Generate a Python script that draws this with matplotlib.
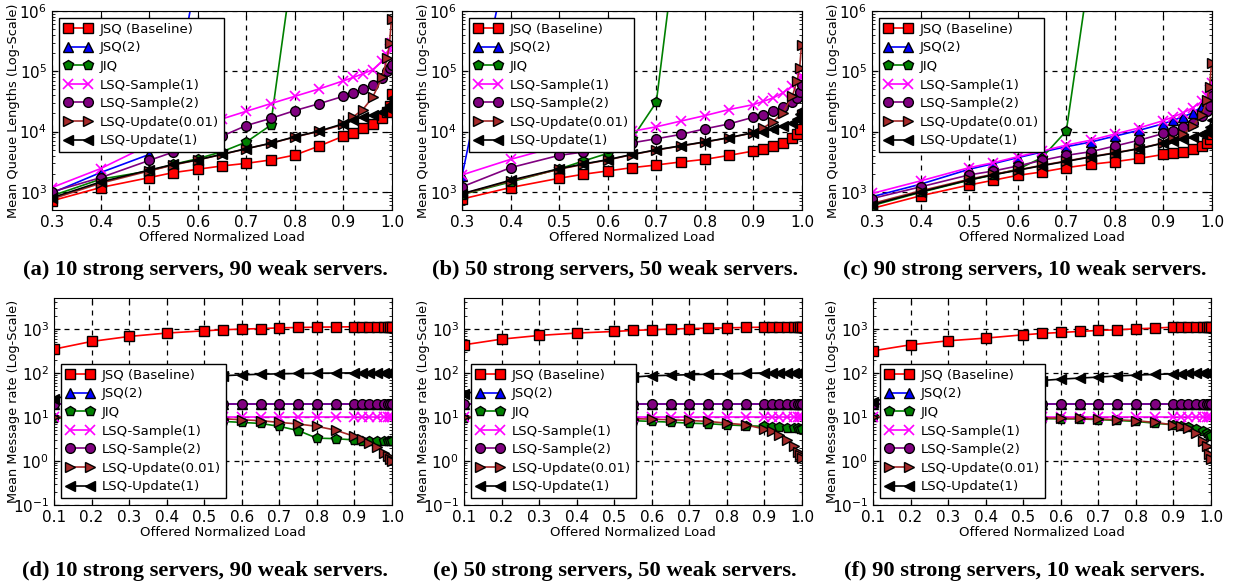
import matplotlib
matplotlib.use("Agg")
import matplotlib.pyplot as plt
from matplotlib.ticker import LogLocator, FormatStrFormatter

# offered normalized load (x values)
x_top = [0.3, 0.4, 0.5, 0.55, 0.6, 0.65, 0.7, 0.75, 0.8, 0.85, 0.9, 0.92, 0.94, 0.96, 0.98, 0.99, 0.995, 0.999]
x_bot = [0.1, 0.2, 0.3, 0.4, 0.5, 0.55, 0.6, 0.65, 0.7, 0.75, 0.8, 0.85, 0.9, 0.92, 0.94, 0.96, 0.98, 0.99, 0.995, 0.999]

labels = ["JSQ (Baseline)", "JSQ(2)", "JIQ", "LSQ-Sample(1)", "LSQ-Sample(2)",
          "LSQ-Update(0.01)", "LSQ-Update(1)"]

# --- mean queue lengths, (a) 10 strong / 90 weak
jsq_a = [710, 1180, 1720, 2090, 2370, 2690, 2970, 3380, 4080, 5750, 8400, 9550, 11300, 13100, 16900, 21100, 26300, 42500]
jsq2_a = [960, 2090, 4170, 30000, 5e6]
jiq_a = [860, 1620, 2220, 2860, 3550, 4630, 6700, 12700, 1e7]
samp1_a = [1180, 2430, 6000, 8500, 12000, 16200, 21700, 29000, 38500, 51000, 69500, 79000, 91000, 106000, 146000, 188000, 230000, 300000]
samp2_a = [1000, 1720, 3320, 4580, 6100, 8400, 12600, 16500, 22300, 29000, 38500, 43600, 51000, 60000, 78000, 100000, 115000, 125000]
upd001_a = [760, 1390, 2220, 2790, 3380, 4170, 5190, 6360, 8120, 10100, 13100, 17500, 23200, 37000, 80000, 165000, 295000, 740000]
upd1_a = [800, 1460, 2300, 2850, 3400, 4200, 5200, 6400, 8200, 10200, 13500, 15700, 17300, 19000, 21300, 24500, 28000, 36000]

# --- (b) 50 strong / 50 weak
jsq_b = [760, 1180, 1680, 1960, 2220, 2520, 2790, 3130, 3460, 4030, 4760, 5050, 5750, 6360, 7900, 8950, 11100, 19100]
jsq2_b = [1840, 1.3e7]
jiq_b = [900, 1460, 2400, 3250, 4350, 7600, 30600, 5e7]
samp1_b = [1910, 3460, 5750, 7000, 8500, 10100, 12000, 14900, 18400, 23200, 28000, 31700, 36000, 43600, 57000, 67000, 80000, 85000]
samp2_b = [1210, 2520, 4030, 4580, 5400, 6500, 7600, 8950, 11100, 13400, 17300, 19100, 21700, 25300, 30900, 36000, 44800, 60000]
upd001_b = [915, 1520, 2370, 2860, 3380, 4140, 4940, 5750, 6700, 7900, 9550, 11500, 14500, 20400, 38400, 69500, 112000, 270000]
upd1_b = [930, 1560, 2420, 2900, 3420, 4180, 4980, 5800, 6750, 7950, 9600, 9800, 11000, 12300, 13900, 16300, 19500, 23000]

# --- (c) 90 strong / 10 weak
jsq_c = [530, 860, 1300, 1560, 1880, 2140, 2520, 2860, 3170, 3590, 4170, 4340, 4630, 5060, 5750, 6500, 7600, 8950]
jsq2_c = [830, 1340, 2370, 2940, 3690, 4580, 5610, 6700, 8400, 10500, 13500, 15400, 17500, 20400, 26300, 31800, 43600, 63600]
jiq_c = [590, 980, 1560, 1910, 2370, 3690, 10200, 6e6]
samp1_c = [940, 1520, 2520, 3050, 3830, 4740, 5960, 7190, 9100, 11500, 15200, 17500, 20400, 24700, 31800, 38500, 49300, 63600]
samp2_c = [775, 1210, 1910, 2220, 2690, 3330, 4030, 4630, 5750, 7190, 9300, 10400, 12000, 14000, 18000, 21700, 26300, 38500]
upd001_c = [640, 1040, 1620, 1960, 2310, 2760, 3250, 3830, 4450, 5250, 6500, 7600, 8950, 12300, 19100, 34000, 54000, 136000]
upd1_c = [610, 1000, 1580, 1920, 2280, 2720, 3200, 3780, 4400, 5200, 6450, 6950, 7400, 8100, 9100, 10000, 11800, 15800]

# --- mean message rate, (d) 10 strong / 90 weak
jsq_d = [345, 516, 670, 800, 900, 950, 985, 1010, 1050, 1070, 1090, 1100, 1110, 1110, 1110, 1110, 1110, 1110, 1110, 1110]
jsq2_d = [20, 20, 20, 20, 20, 20, 20, 20, 20, 20, 20, 20, 20, 20, 20, 20, 20, 20, 20, 20]
jiq_d = [9.5, 9.3, 9.0, 8.7, 8.2, 7.9, 7.5, 7.1, 6.1, 4.9, 3.3, 3.2, 3.0, 2.9, 2.8, 2.8, 2.8, 2.8, 2.8, 2.8]
samp1_d = [10, 10, 10, 10, 10, 10, 10, 10, 10, 10, 10, 10, 10, 10, 10, 10, 10, 10, 10, 10]
samp2_d = [20, 20, 20, 20, 20, 20, 20, 20, 20, 20, 20, 20, 20, 20, 20, 20, 20, 20, 20, 20]
upd001_d = [9.8, 9.7, 9.6, 9.4, 9.2, 9.1, 8.6, 8.2, 7.5, 6.9, 6.1, 5.0, 3.6, 3.2, 2.6, 2.05, 1.52, 1.27, 1.1, 1.0]
upd1_d = [25, 45, 60, 70, 80, 86, 90, 93, 95, 97, 98, 99, 100, 100, 100, 100, 100, 100, 100, 100]

# --- (e) 50 strong / 50 weak
jsq_e = [433, 582, 706, 800, 870, 917, 950, 985, 1015, 1030, 1050, 1070, 1090, 1095, 1100, 1100, 1100, 1100, 1100, 1100]
jsq2_e = [20, 20, 20, 20, 20, 20, 20, 20, 20, 20, 20, 20, 20, 20, 20, 20, 20, 20, 20, 20]
jiq_e = [9.6, 9.4, 9.2, 8.9, 8.5, 8.2, 7.9, 7.6, 7.2, 7.0, 6.6, 6.3, 6.1, 5.9, 5.8, 5.7, 5.6, 5.5, 5.4, 5.4]
samp1_e = [10, 10, 10, 10, 10, 10, 10, 10, 10, 10, 10, 10, 10, 10, 10, 10, 10, 10, 10, 10]
samp2_e = [20, 20, 20, 20, 20, 20, 20, 20, 20, 20, 20, 20, 20, 20, 20, 20, 20, 20, 20, 20]
upd001_e = [9.9, 9.8, 9.7, 9.5, 9.3, 9.1, 8.9, 8.6, 8.3, 7.9, 7.2, 6.6, 5.3, 4.7, 3.9, 3.0, 2.15, 1.57, 1.4, 1.15]
upd1_e = [33, 52, 63, 72, 78, 80, 86, 88, 91, 93, 95, 97, 100, 100, 100, 100, 100, 100, 100, 100]

# --- (f) 90 strong / 10 weak
jsq_f = [316, 433, 534, 614, 730, 784, 826, 870, 917, 950, 1000, 1035, 1090, 1095, 1100, 1100, 1100, 1100, 1100, 1100]
jsq2_f = [20, 20, 20, 20, 20, 20, 20, 20, 20, 20, 20, 20, 20, 20, 20, 20, 20, 20, 20, 20]
jiq_f = [9.8, 9.7, 9.6, 9.5, 9.3, 9.1, 9.0, 9.0, 8.7, 8.3, 7.9, 7.2, 6.6, 6.3, 6.0, 5.3, 4.7, 4.2, 3.9, 3.7]
samp1_f = [10, 10, 10, 10, 10, 10, 10, 10, 10, 10, 10, 10, 10, 10, 10, 10, 10, 10, 10, 10]
samp2_f = [20, 20, 20, 20, 20, 20, 20, 20, 20, 20, 20, 20, 20, 20, 20, 20, 20, 20, 20, 20]
upd001_f = [9.9, 9.8, 9.8, 9.7, 9.6, 9.5, 9.3, 9.2, 8.9, 8.6, 8.2, 7.5, 6.6, 6.1, 5.6, 4.3, 2.8, 2.15, 1.45, 1.1]
upd1_f = [22, 38, 48, 56, 63, 67, 72, 76, 80, 85, 89, 92, 95, 96, 97, 98, 99, 100, 100, 100]

captions = ["(a) 10 strong servers, 90 weak servers.",
            "(b) 50 strong servers, 50 weak servers.",
            "(c) 90 strong servers, 10 weak servers.",
            "(d) 10 strong servers, 90 weak servers.",
            "(e) 50 strong servers, 50 weak servers.",
            "(f) 90 strong servers, 10 weak servers."]

# line styles per policy: color, marker, marker size
styles = [("#ff0000", "s", 7), ("#0000ff", "^", 7.5), ("#008000", "p", 7),
          ("#ff00ff", "x", 7), ("#800080", "o", 7), ("#a52a2a", ">", 7.5),
          ("#000000", "<", 7.5)]

plt.rcParams["font.family"] = "DejaVu Sans"
plt.rcParams["mathtext.fontset"] = "dejavusans"

fig = plt.figure(figsize=(12.34, 5.87), dpi=100)

top_series = [[jsq_a, jsq2_a, jiq_a, samp1_a, samp2_a, upd001_a, upd1_a],
              [jsq_b, jsq2_b, jiq_b, samp1_b, samp2_b, upd001_b, upd1_b],
              [jsq_c, jsq2_c, jiq_c, samp1_c, samp2_c, upd001_c, upd1_c]]
bot_series = [[jsq_d, jsq2_d, jiq_d, samp1_d, samp2_d, upd001_d, upd1_d],
              [jsq_e, jsq2_e, jiq_e, samp1_e, samp2_e, upd001_e, upd1_e],
              [jsq_f, jsq2_f, jiq_f, samp1_f, samp2_f, upd001_f, upd1_f]]

top_lefts = [52, 462, 872]
bot_lefts = [54, 464, 873]
W, H = 1234.0, 587.0


def style_axis(ax, xs_ticks):
    ax.set_xticks(xs_ticks)
    ax.xaxis.set_major_formatter(FormatStrFormatter("%.1f"))
    ax.yaxis.set_major_locator(LogLocator(base=10))
    ax.yaxis.set_minor_locator(LogLocator(base=10, subs=range(2, 10)))
    ax.tick_params(which="both", direction="in", top=True, right=True, labelsize=11)
    ax.tick_params(which="major", length=4)
    ax.tick_params(which="minor", length=2)
    ax.grid(True, which="major", linestyle="--", color="k", linewidth=0.9, dashes=(4, 4))
    ax.set_axisbelow(True)
    ax.set_xlabel("Offered Normalized Load", fontsize=9.5, labelpad=1)


def add_legend(ax, loc):
    leg = ax.legend(loc=loc, fontsize=9.5, numpoints=2, handlelength=2.1,
                    labelspacing=0.42, fancybox=False, framealpha=1, borderpad=0.4,
                    handletextpad=0.6, borderaxespad=0.5)
    leg.get_frame().set_edgecolor("k")
    leg.get_frame().set_linewidth(1.0)


def draw(ax, xs, series):
    for (color, marker, ms), vals, label in zip(styles, series, labels):
        mec = color if marker == "x" else "k"
        ax.plot(xs[:len(vals)], vals, color=color, marker=marker, markersize=ms,
                markeredgecolor=mec, markeredgewidth=1.0 if marker != "x" else 1.2,
                linewidth=1.2, label=label)


for i in range(3):
    ax = fig.add_axes([top_lefts[i] / W, 1 - 210 / H, 340 / W, 199 / H])
    draw(ax, x_top, top_series[i])
    ax.set_yscale("log")
    ax.set_xlim(0.3, 1.0)
    ax.set_ylim(500, 1e6)
    style_axis(ax, [0.3, 0.4, 0.5, 0.6, 0.7, 0.8, 0.9, 1.0])
    ax.set_ylabel("Mean Queue Lengths (Log-Scale)", fontsize=9.3)
    ax.yaxis.set_label_coords(-32 / 340, 0.5)
    add_legend(ax, "upper left")
    fig.text((top_lefts[i] + 153) / W, 1 - 270 / H, captions[i], ha="center", va="center",
             fontsize=16.2, fontweight="bold", family="Liberation Serif")

for i in range(3):
    ax = fig.add_axes([bot_lefts[i] / W, 1 - 505 / H, 338 / W, 207 / H])
    draw(ax, x_bot, bot_series[i])
    ax.set_yscale("log")
    ax.set_xlim(0.1, 1.0)
    ax.set_ylim(0.1, 5000)
    style_axis(ax, [0.1, 0.2, 0.3, 0.4, 0.5, 0.6, 0.7, 0.8, 0.9, 1.0])
    ax.set_ylabel("Mean Message rate (Log-Scale)", fontsize=9.3)
    ax.yaxis.set_label_coords(-34 / 338, 0.5)
    add_legend(ax, "lower left")
    fig.text((bot_lefts[i] + 151) / W, 1 - 571 / H, captions[i + 3], ha="center", va="center",
             fontsize=16.2, fontweight="bold", family="Liberation Serif")

fig.savefig("out.png", dpi=100, facecolor="white")
